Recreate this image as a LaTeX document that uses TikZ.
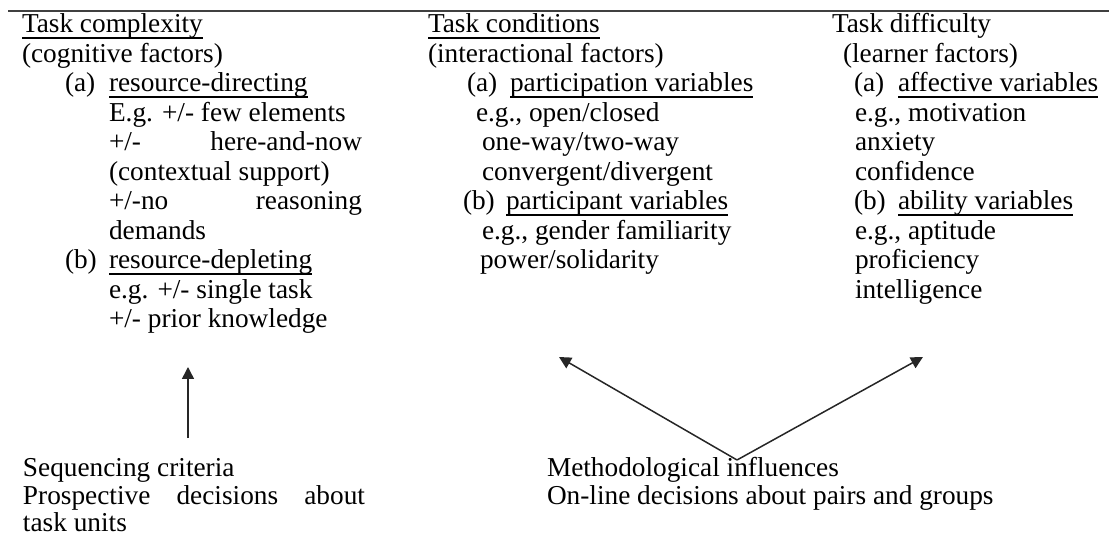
\documentclass[tikz,border=0pt]{standalone}
\usepackage{fontspec}
\setmainfont{Liberation Serif}
\usetikzlibrary{arrows.meta}
\newcommand\diagfont{\fontsize{27.3}{29.5}\selectfont}
\tikzset{
  txt/.style={anchor=base west, inner sep=0pt, outer sep=0pt, font=\diagfont, text=black},
  uline/.style={line width=1.3pt, black},
  arr/.style={line width=1.5pt, black!85, -{Triangle[length=12pt,width=12pt]}},
  topline/.style={line width=2pt, black!75}
}
\newcommand\ul[1]{\draw[uline] ([yshift=-5pt]#1.base west) -- ([yshift=-5pt]#1.base east);}
\begin{document}
\begin{tikzpicture}[x=1pt,y=-1pt]
\useasboundingbox (0,0) rectangle (1109,537);
% top rule
\coordinate (tl) at (8,11.5);
\coordinate (tr) at (1109,11.5);
\draw[topline] (tl) -- (tr);

% Column 1
\node[txt] (a1) at (22,33) {Task complexity};
\node[txt] (a2) at (22,62.5) {(cognitive factors)};
\node[txt] (a3l) at (65,92) {(a)};
\node[txt] (a3) at (109,92) {resource-directing};
\node[txt] (a4) at (109,121.5) {E.g. +/- few elements};
\node[txt] (a5) at (109,151) {\hbox to 253pt{+/-\hfill here-and-now}};
\node[txt] (a6) at (109,180.5) {(contextual support)};
\node[txt] (a7) at (109,210) {\hbox to 253pt{+/-no\hfill reasoning}};
\node[txt] (a8) at (109,239.5) {demands};
\node[txt] (a9l) at (65,269) {(b)};
\node[txt] (a9) at (109,269) {resource-depleting};
\node[txt] (a10) at (109,298.5) {e.g. +/- single task};
\node[txt] (a11) at (109,328) {+/- prior knowledge};
\ul{a1}\ul{a3}\ul{a9}

% Column 2
\node[txt] (b1) at (428,33) {Task conditions};
\node[txt] (b2) at (428,62.5) {(interactional factors)};
\node[txt] (b3l) at (467,92) {(a)};
\node[txt] (b3) at (510,92) {participation variables};
\node[txt] (b4) at (476,121.5) {e.g., open/closed};
\node[txt] (b5) at (482,151) {one-way/two-way};
\node[txt] (b6) at (482,180.5) {convergent/divergent};
\node[txt] (b7l) at (463,210) {(b)};
\node[txt] (b7) at (506,210) {participant variables};
\node[txt] (b8) at (482,239.5) {e.g., gender familiarity};
\node[txt] (b9) at (480,269) {power/solidarity};
\ul{b1}\ul{b3}\ul{b7}

% Column 3
\node[txt] (c1) at (832,33) {Task difficulty};
\node[txt] (c2) at (843,62.5) {(learner factors)};
\node[txt] (c3l) at (854,92) {(a)};
\node[txt] (c3) at (898,92) {affective variables};
\node[txt] (c4) at (855,121.5) {e.g., motivation};
\node[txt] (c5) at (855,151) {anxiety};
\node[txt] (c6) at (855,180.5) {confidence};
\node[txt] (c7l) at (854,210) {(b)};
\node[txt] (c7) at (898,210) {ability variables};
\node[txt] (c8) at (855,239.5) {e.g., aptitude};
\node[txt] (c9) at (855,269) {proficiency};
\node[txt] (c10) at (855,298.5) {intelligence};
\ul{c3}\ul{c7}

% Bottom
\node[txt] (s1) at (23,476) {Sequencing criteria};
\node[txt] (s2) at (23,504) {\hbox to 342pt{Prospective\hfill decisions\hfill about}};
\node[txt] (s3) at (23,531) {task units};
\node[txt] (m1) at (547,476) {Methodological influences};
\node[txt] (m2) at (547,504) {On-line decisions about pairs and groups};

% Arrows
\coordinate (sq) at (188,438);
\coordinate (sqt) at (188,367);
\draw[arr] (sq) -- (sqt);
\coordinate (apex) at (737,460);
\coordinate (lt) at (559,357);
\coordinate (rt) at (923,357);
\draw[arr] (apex) -- (lt);
\draw[arr] (apex) -- (rt);
\end{tikzpicture}
\end{document}
